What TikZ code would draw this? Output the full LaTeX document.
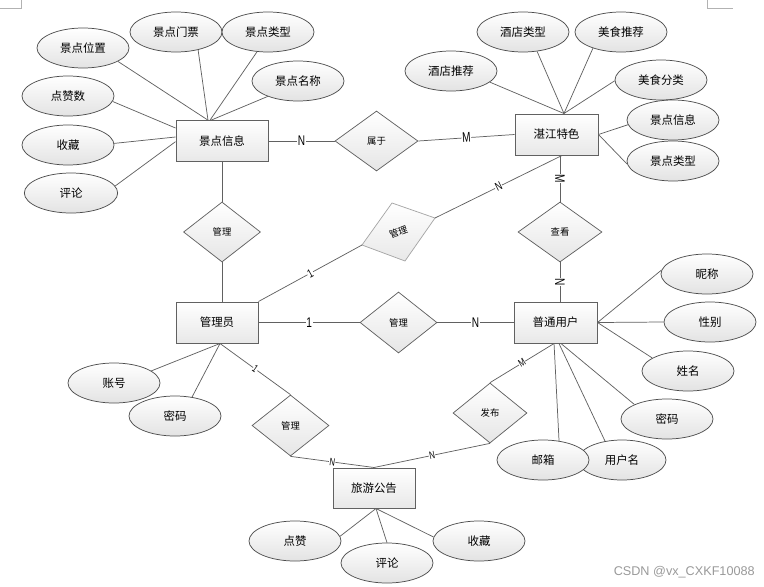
\documentclass[tikz,border=0pt]{standalone}
\usepackage{fontspec}
\usepackage{graphicx}
\setmainfont{Noto Sans CJK SC}
\newfontfamily\lblfont{Liberation Sans}
\usetikzlibrary{shapes.geometric,shadows,calc}
\newcommand\lbx[1]{\scalebox{0.72}[1]{#1}}
\begin{document}
\begin{tikzpicture}[x=0.75pt,y=-0.75pt,
  conn/.style={draw=black!62, line width=0.55pt},
  ent/.style={rectangle, draw=black!62, line width=0.75pt, top color=white, bottom color=black!9,
    minimum width=62pt, minimum height=30.5pt, inner sep=0pt, font=\fontsize{8.6}{10}\selectfont,
    drop shadow={shadow xshift=0.6pt, shadow yshift=-0.6pt, opacity=0.3, fill=black!60}},
  attr/.style={ellipse, draw=black!70, line width=0.55pt, top color=white, bottom color=black!11,
    minimum width=69pt, minimum height=30pt, inner sep=0pt, font=\fontsize{8.6}{10}\selectfont},
  rel/.style={diamond, draw=black!62, line width=0.55pt, top color=white, bottom color=black!10,
    minimum width=58pt, minimum height=45pt, inner sep=0pt, font=\fontsize{7}{8}\selectfont},
  lbl/.style={fill=white, inner sep=0.5pt, sloped, font=\lblfont\fontsize{10.5}{11}\selectfont},
  lbls/.style={fill=white, inner sep=0.3pt, sloped, font=\lblfont\fontsize{8}{9}\selectfont},
  cornermark/.style={draw=black!30, line width=0.5pt}
]
\useasboundingbox (0,0) rectangle (764,586);

% page corner marks
\draw[cornermark] (0,8) -- (21,8) -- (21,0);
\draw[cornermark] (707,0) -- (707,8) -- (733,8);

% entities
\node[ent, minimum width=69pt] (jd) at (222,141) {景点信息};
\node[ent, minimum width=62.25pt, minimum height=30.75pt] (zj) at (556.5,134.5) {湛江特色};
\node[ent, minimum width=61.5pt, minimum height=30.75pt] (gly) at (217,322.5) {管理员};
\node[ent, minimum width=62.25pt, minimum height=30.75pt] (pt) at (555.5,322.5) {普通用户};
\node[ent, minimum width=61.5pt, minimum height=30pt] (ly) at (374,488) {旅游公告};

% relationships
\node[rel, minimum width=62.25pt] (r1) at (376.5,141) {属于};
\node[rel, minimum width=57.75pt] (r2) at (222,232) {管理};
\node[rel, minimum width=63pt] (r4) at (560,232) {查看};
\node[rel, minimum width=57.75pt, minimum height=45.75pt] (r5) at (398.5,322.5) {管理};
\node[rel, minimum width=57.75pt, minimum height=45.75pt] (r6) at (290.5,425.5) {管理};
\node[rel, minimum width=55.5pt] (r7) at (490,413) {发布};

% tilted relationship
\coordinate (r3L) at (362,245);
\coordinate (r3T) at (392,203);
\coordinate (r3R) at (435,218);
\coordinate (r3B) at (405,261);
\path[draw=black!35, line width=0.55pt, top color=white, bottom color=black!9]
  (r3L) -- (r3T) -- (r3R) -- (r3B) -- cycle;
\node[rotate=20, font=\fontsize{7}{8}\selectfont, inner sep=0pt] (r3) at (398.5,232) {管理};

% attributes of 景点信息
\node[attr] (a1) at (83,48) {景点位置};
\node[attr] (a2) at (176,32) {景点门票};
\node[attr] (a3) at (268,32) {景点类型};
\node[attr] (a4) at (298,81) {景点名称};
\node[attr] (a5) at (68,96) {点赞数};
\node[attr] (a6) at (68,145) {收藏};
\node[attr, minimum width=70pt] (a7) at (71,193) {评论};

% attributes of 湛江特色
\node[attr] (b1) at (451,71) {酒店推荐};
\node[attr] (b2) at (523,32) {酒店类型};
\node[attr] (b3) at (621,32) {美食推荐};
\node[attr] (b4) at (661,80) {美食分类};
\node[attr] (b5) at (673,120) {景点信息};
\node[attr] (b6) at (673,161) {景点类型};

% attributes of 普通用户
\node[attr] (c1) at (707,274) {昵称};
\node[attr] (c2) at (710,322) {性别};
\node[attr] (c3) at (688,371) {姓名};
\node[attr] (c4) at (667,419) {密码};
\node[attr, minimum width=66pt] (c5) at (622,460) {用户名};
\node[attr] (c6) at (543,460) {邮箱};

% attributes of 管理员
\node[attr] (d1) at (114,383) {账号};
\node[attr] (d2) at (175,416) {密码};

% attributes of 旅游公告
\node[attr] (e1) at (295,541) {点赞};
\node[attr] (e2) at (387,563) {评论};
\node[attr] (e3) at (479,541) {收藏};

% attribute connectors
\draw[conn] (a1.-21) -- ([xshift=-10.5pt]jd.north);
\draw[conn] (a2.-39) -- ([xshift=-10.5pt]jd.north);
\draw[conn] (a3.-119) -- ([xshift=-9pt]jd.north);
\draw[conn] (a4.-153) -- ([xshift=-8.2pt]jd.north);
\draw[conn] (a5.-7) -- ([yshift=9.75pt]jd.west);
\draw[conn] (a6.2) -- ([yshift=3pt]jd.west);
\draw[conn] (a7.9) -- ([yshift=-0.5pt]jd.west);

\draw[conn] (b1.-16) -- ([xshift=5.6pt]zj.north);
\draw[conn] (b2.-54) -- ([xshift=5.6pt]zj.north);
\draw[conn] (b3.-150) -- ([xshift=5.6pt]zj.north);
\draw[conn] (b4.181) -- ([xshift=5.6pt]zj.north);
\draw[conn] (b5.186) -- (zj.east);
\draw[conn] (b6.184) -- (zj.east);

\draw[conn] (c1.175) -- (pt.east);
\draw[conn] (c2.west) -- (pt.east);
\draw[conn] (c3.160) -- (pt.east);
\draw[conn] (c4.156) -- ([xshift=4.1pt]pt.south);
\draw[conn] (c5.132) -- ([xshift=2.6pt]pt.south);
\draw[conn] (c6.50) -- ([xshift=-1.1pt]pt.south);

\draw[conn] (d1.18) -- ([xshift=2.25pt]gly.south);
\draw[conn] (d2.48) -- ([xshift=2.25pt]gly.south);

\draw[conn] (e1.6) -- ([xshift=1.5pt]ly.south);
\draw[conn] (e2.north) -- ([xshift=1.5pt]ly.south);
\draw[conn] (e3.175) -- ([xshift=1.5pt]ly.south);

% relationship connectors
\draw[conn] (jd.east) -- node[lbl] {\lbx{N}} (r1.west);
\draw[conn] (r1.east) -- node[lbl] {\lbx{M}} (zj.west);
\draw[conn] (jd.south) -- (r2.north);
\draw[conn] (r2.south) -- (r2.south |- gly.north);
\draw[conn] (gly.north east) -- node[lbl, font=\lblfont\fontsize{9}{10}\selectfont] {\lbx{1}} (r3L);
\draw[conn] (r3R) -- node[lbl, font=\lblfont\fontsize{9}{10}\selectfont] {\lbx{N}} ([xshift=4.1pt]zj.south);
\draw[conn] (r4.north |- zj.south) -- node[lbl] {\lbx{M}} (r4.north);
\draw[conn] (r4.south) -- node[lbl] {\lbx{N}} (r4.south |- pt.north);
\draw[conn] (gly.east) -- node[lbl] {\lbx{1}} (r5.west);
\draw[conn] (r5.east) -- node[lbl] {\lbx{N}} (pt.west);
\draw[conn] ([xshift=2.25pt]gly.south) -- node[lbls] {\lbx{1}} (r6.north);
\draw[conn] (r6.south) -- node[lbls] {\lbx{N}} (ly.north);
\draw[conn] ([xshift=-1.1pt]pt.south) -- node[lbls] {\lbx{M}} (r7.north);
\draw[conn] (r7.south) -- node[lbls] {\lbx{N}} (ly.north);

% watermark
\node[anchor=east, text=black!40, inner sep=0pt, font=\lblfont\fontsize{9.5}{10}\selectfont] (wm) at (755,572) {CSDN @vx\_CXKF10088};
\end{tikzpicture}
\end{document}
